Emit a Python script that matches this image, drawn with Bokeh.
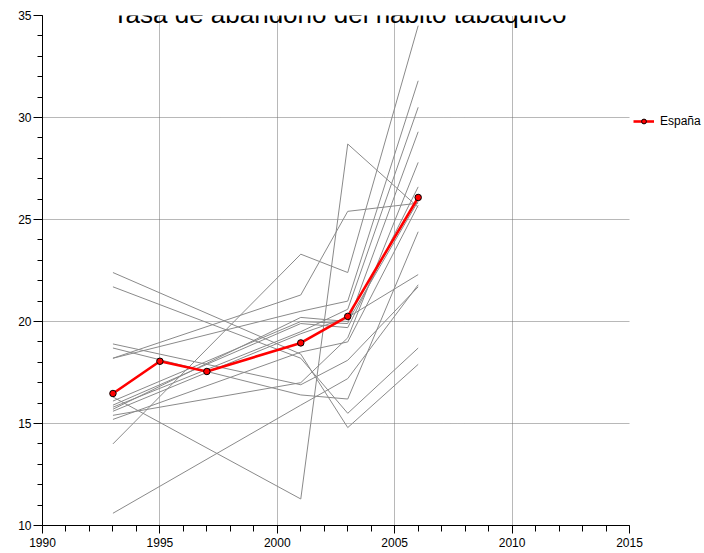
from bokeh.plotting import figure
from bokeh.models import Range1d, SingleIntervalTicker, Legend, LegendItem, Label
from bokeh.embed import file_html
from bokeh.resources import INLINE

title_text = "Tasa de abandono del hábito tabáquico"

spain_label = "España"
spain_years = [1993, 1995, 1997, 2001, 2003, 2006]
spain_values = [16.47, 18.05, 17.55, 18.95, 20.25, 26.08]

region_years = [1993, 2001, 2003, 2006]
region_01 = [14.0, 23.3, 22.4, 34.5]
region_02 = [16.3, 11.3, 28.7, 25.6]
region_03 = [22.4, 18.4, 14.8, 17.9]
region_04 = [21.7, 18.2, 15.5, 18.7]
region_05 = [10.6, 15.9, 17.2, 21.8]
region_06 = [18.2, 21.3, 25.4, 25.8]
region_07 = [18.2, 20.5, 21.0, 31.8]
region_08 = [15.8, 19.5, 20.6, 30.5]
region_09 = [18.9, 16.9, 18.1, 21.7]
region_10 = [16.1, 20.0, 19.9, 29.3]
region_11 = [15.9, 19.9, 19.7, 26.6]
region_12 = [15.7, 20.2, 20.0, 25.9]
region_13 = [18.7, 16.4, 16.2, 24.4]
region_14 = [15.6, 19.4, 20.2, 22.3]
region_15 = [15.4, 17.0, 19.2, 27.8]
region_16 = [15.2, 18.5, 19.0, 25.7]
regions = [region_01, region_02, region_03, region_04, region_05, region_06,
           region_07, region_08, region_09, region_10, region_11, region_12,
           region_13, region_14, region_15, region_16]

x_start, x_end = 1990, 2015
y_start, y_end = 10, 35

FONT = "Liberation Sans"

p = figure(frame_width=587, frame_height=510, output_backend="svg",
           toolbar_location=None,
           x_range=Range1d(x_start, x_end), y_range=Range1d(y_start, y_end),
           min_border_left=42, min_border_right=75, min_border_top=15,
           min_border_bottom=25)
p.outline_line_color = None
p.background_fill_color = "white"
p.border_fill_color = "white"

p.xaxis.ticker = SingleIntervalTicker(interval=5, num_minor_ticks=5)
p.yaxis.ticker = SingleIntervalTicker(interval=5, num_minor_ticks=5)
for ax in (p.xaxis, p.yaxis):
    ax.axis_line_color = "black"
    ax.axis_line_width = 1
    ax.major_tick_line_color = "black"
    ax.minor_tick_line_color = "black"
    ax.major_tick_in = 0
    ax.minor_tick_in = 0
    ax.major_label_text_font = FONT
    ax.major_label_text_font_size = "12px"
    ax.major_label_text_color = "black"
p.xaxis.major_tick_out = 8
p.xaxis.minor_tick_out = 6
p.xaxis.major_label_standoff = 4
p.yaxis.major_tick_out = 9
p.yaxis.minor_tick_out = 5
p.yaxis.major_label_standoff = 2

p.grid.grid_line_color = "#707070"
p.grid.grid_line_dash = "1 1"
p.grid.grid_line_width = 1

for vals in regions:
    p.line(region_years, vals, line_color="#8a8a8a", line_width=1)

r_line = p.line(spain_years, spain_values, line_color="#ff0000", line_width=2.6)
r_pts = p.scatter(spain_years, spain_values, marker="circle", size=6.5,
                  fill_color="#ff0000", line_color="black", line_width=1)

legend = Legend(items=[LegendItem(label=spain_label, renderers=[r_line, r_pts])],
                location=(4, 397), padding=0, margin=0, spacing=0,
                glyph_width=21, glyph_height=12, label_height=12,
                label_standoff=6, label_text_font=FONT,
                label_text_font_size="12px", label_text_color="black",
                border_line_color=None, background_fill_alpha=0)
p.add_layout(legend, "right")

title = Label(x=297, y=512, x_units="screen", y_units="screen", text=title_text,
              text_align="center", text_baseline="alphabetic",
              text_font=FONT, text_font_size="26px", text_color="black")
p.add_layout(title)

open("out.html", "w").write(file_html(p, INLINE))
